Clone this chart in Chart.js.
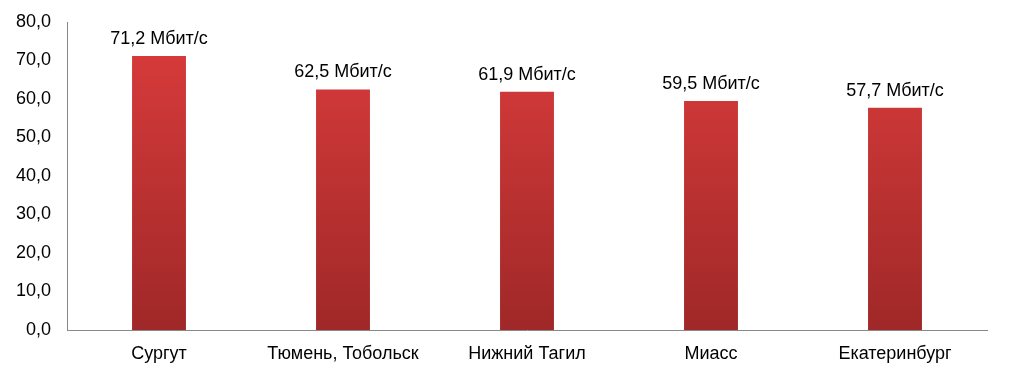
<!DOCTYPE html>
<html><head><meta charset="utf-8">
<script src="https://cdn.jsdelivr.net/npm/chart.js@4/dist/chart.umd.min.js"></script>
<style>html,body{margin:0;padding:0;background:#fff}#wrap{width:1009px;height:377px}</style>
</head><body><div id="wrap"><canvas id="c"></canvas></div>
<script>
const categories = ["Сургут", "Тюмень, Тобольск", "Нижний Тагил", "Миасс", "Екатеринбург"];
const speeds = [71.2, 62.5, 61.9, 59.5, 57.7];
const unitLabel = "Мбит/с";
const yMin = 0, yMax = 80, yStep = 10;

const fmt = v => v.toFixed(1).replace('.', ',');
const FONT = '"Liberation Sans", Arial, sans-serif';

const valueLabels = {
  id: 'valueLabels',
  afterDatasetsDraw(chart) {
    const ctx = chart.ctx;
    const meta = chart.getDatasetMeta(0);
    ctx.save();
    ctx.font = '18px ' + FONT;
    ctx.fillStyle = '#000';
    ctx.textAlign = 'center';
    ctx.textBaseline = 'alphabetic';
    meta.data.forEach((el, i) => {
      ctx.fillText(fmt(speeds[i]) + ' ' + unitLabel, el.x, el.y - 12);
    });
    ctx.restore();
  }
};

new Chart(document.getElementById('c'), {
  type: 'bar',
  data: {
    labels: categories,
    datasets: [{
      data: speeds,
      backgroundColor(ctx) {
        const ch = ctx.chart;
        const a = ch.chartArea;
        if (!a) return '#c83434';
        const g = ch.ctx.createLinearGradient(0, a.top, 0, a.bottom);
        g.addColorStop(0, '#dc3c3c');
        g.addColorStop(1, '#a02828');
        return g;
      },
      borderWidth: 0,
      barPercentage: 0.293,
      categoryPercentage: 1.0
    }]
  },
  options: {
    responsive: true,
    maintainAspectRatio: false,
    animation: false,
    layout: { padding: { top: 22, right: 22, left: 0, bottom: 0 } },
    plugins: { legend: { display: false }, tooltip: { enabled: false } },
    scales: {
      x: {
        afterFit(s) { s.height = 47; },
        grid: { display: false, drawTicks: false },
        border: { display: true, color: '#888', width: 1 },
        ticks: { color: '#000', padding: 13, font: { family: FONT, size: 18 } }
      },
      y: {
        min: yMin, max: yMax,
        afterFit(s) { s.width = 67; s.paddingTop = 0; s.paddingBottom = 0; },
        grid: { display: false, drawTicks: false },
        border: { display: true, color: '#888', width: 1 },
        ticks: {
          stepSize: yStep, color: '#000', padding: 16,
          font: { family: FONT, size: 18 },
          callback: v => fmt(v)
        }
      }
    }
  },
  plugins: [valueLabels]
});
</script></body></html>
